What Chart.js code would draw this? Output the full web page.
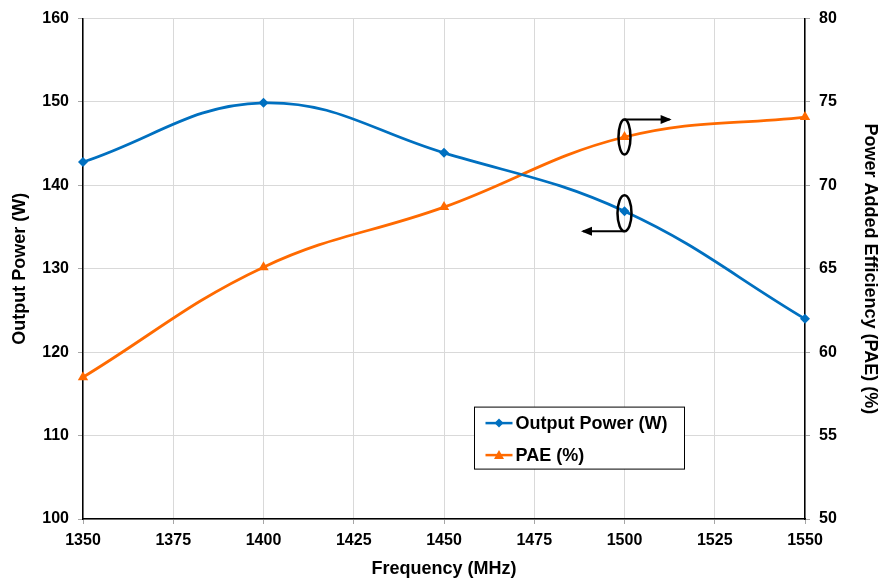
<!DOCTYPE html>
<html>
<head>
<meta charset="utf-8">
<script src="https://cdn.jsdelivr.net/npm/chart.js@4.4.1/dist/chart.umd.min.js"></script>
<style>
html,body{margin:0;padding:0;background:#fff;}
#wrap{width:882px;height:581px;}
</style>
</head>
<body>
<div id="wrap"><canvas id="c" width="882" height="581"></canvas></div>
<script>
const frequencies = [1350, 1400, 1450, 1500, 1550];
const outputPower = [142.8, 149.9, 143.9, 136.9, 124.0];
const paeValues = [58.5, 65.1, 68.7, 72.9, 74.1];
const xTicks = [1350, 1375, 1400, 1425, 1450, 1475, 1500, 1525, 1550];
const leftTicks = [100, 110, 120, 130, 140, 150, 160];
const rightTicks = [50, 55, 60, 65, 70, 75, 80];

const BLUE = '#0070C0';
const ORANGE = '#FF6A00';
const FONT = '"Liberation Sans", Arial, sans-serif';

const annotPlugin = {
  id: 'annot',
  afterDatasetsDraw(chart) {
    const ctx = chart.ctx;
    const x = chart.scales.x, yl = chart.scales.y, yr = chart.scales.y2;
    ctx.save();
    ctx.strokeStyle = '#000';
    ctx.fillStyle = '#000';
    function arrow(x0, y0, x1, y1) {
      ctx.lineWidth = 2;
      ctx.beginPath(); ctx.moveTo(x0, y0); ctx.lineTo(x1, y1); ctx.stroke();
      const dir = Math.sign(x1 - x0);
      ctx.beginPath();
      ctx.moveTo(x1 + dir * 2, y1);
      ctx.lineTo(x1 - dir * 9, y1 - 4.5);
      ctx.lineTo(x1 - dir * 9, y1 + 4.5);
      ctx.closePath(); ctx.fill();
    }
    const px = x.getPixelForValue(frequencies[3]);
    const py = yr.getPixelForValue(paeValues[3]);
    ctx.lineWidth = 2.5;
    ctx.beginPath(); ctx.ellipse(px, py, 6, 17.5, 0, 0, Math.PI * 2); ctx.stroke();
    arrow(px, py - 17.5, x.getPixelForValue(1512.5), py - 17.5);
    const oy = yl.getPixelForValue(outputPower[3]) + 2;
    ctx.lineWidth = 2.5;
    ctx.beginPath(); ctx.ellipse(px, oy, 7, 18, 0, 0, Math.PI * 2); ctx.stroke();
    arrow(px, oy + 18, x.getPixelForValue(1488.5), oy + 18);
    ctx.restore();
  }
};

const legendPlugin = {
  id: 'boxLegend',
  afterDraw(chart) {
    const ctx = chart.ctx;
    const ca = chart.chartArea;
    const bx = ca.left + 391.5, by = ca.top + 388.5, bw = 210, bh = 62;
    ctx.save();
    ctx.fillStyle = '#fff';
    ctx.fillRect(bx, by, bw, bh);
    ctx.strokeStyle = '#000';
    ctx.lineWidth = 1;
    ctx.strokeRect(bx, by, bw, bh);
    ctx.font = 'bold 18px ' + FONT;
    ctx.textBaseline = 'middle';
    chart.data.datasets.forEach((ds, i) => {
      const cy = by + 16 + i * 32;
      const lx0 = bx + 11, lx1 = bx + 38, mx = (lx0 + lx1) / 2;
      ctx.strokeStyle = ds.borderColor;
      ctx.lineWidth = 2.5;
      ctx.beginPath(); ctx.moveTo(lx0, cy); ctx.lineTo(lx1, cy); ctx.stroke();
      ctx.fillStyle = ds.borderColor;
      ctx.beginPath();
      if (ds.pointStyle === 'rectRot') {
        ctx.moveTo(mx, cy - 4.5); ctx.lineTo(mx + 4.5, cy); ctx.lineTo(mx, cy + 4.5); ctx.lineTo(mx - 4.5, cy);
      } else {
        ctx.moveTo(mx, cy - 5); ctx.lineTo(mx + 5, cy + 4); ctx.lineTo(mx - 5, cy + 4);
      }
      ctx.closePath(); ctx.fill();
      ctx.fillStyle = '#000';
      ctx.fillText(ds.label, bx + 41, cy + 1);
    });
    ctx.restore();
  }
};

const tickFont = {family: FONT, size: 16, weight: 'bold'};
const titleFont = {family: FONT, size: 18, weight: 'bold'};
const plain = v => String(v);

new Chart(document.getElementById('c'), {
  type: 'line',
  data: {
    datasets: [
      {
        label: 'Output Power (W)',
        data: frequencies.map((f, i) => ({x: f, y: outputPower[i]})),
        yAxisID: 'y',
        borderColor: BLUE,
        backgroundColor: BLUE,
        borderWidth: 2.75,
        pointStyle: 'rectRot',
        pointRadius: 5,
        pointBorderWidth: 0,
        tension: 0.4,
        clip: false,
        fill: false
      },
      {
        label: 'PAE (%)',
        data: frequencies.map((f, i) => ({x: f, y: paeValues[i]})),
        yAxisID: 'y2',
        borderColor: ORANGE,
        backgroundColor: ORANGE,
        borderWidth: 2.75,
        pointStyle: 'triangle',
        pointRadius: 6,
        pointBorderWidth: 0,
        tension: 0.4,
        clip: false,
        fill: false
      }
    ]
  },
  options: {
    responsive: false,
    animation: false,
    devicePixelRatio: 1,
    layout: {padding: {top: 17, left: 0, right: 0, bottom: 0}},
    plugins: {legend: {display: false}, tooltip: {enabled: false}},
    scales: {
      x: {
        type: 'linear',
        min: xTicks[0], max: xTicks[xTicks.length - 1],
        afterBuildTicks(s) { s.ticks = xTicks.map(v => ({value: v})); },
        afterFit(s) { s.height = 62; },
        grid: {color: '#d9d9d9', tickColor: '#a6a6a6', tickLength: 5, lineWidth: 1},
        border: {color: '#000', width: 1.5},
        ticks: {color: '#000', font: tickFont, padding: 7, maxRotation: 0, callback: plain},
        title: {display: true, text: 'Frequency (MHz)', color: '#000', font: titleFont, padding: {top: 0, bottom: 1}}
      },
      y: {
        type: 'linear', position: 'left',
        min: leftTicks[0], max: leftTicks[leftTicks.length - 1],
        afterBuildTicks(s) { s.ticks = leftTicks.map(v => ({value: v})); },
        afterFit(s) { s.width = 83; },
        grid: {color: '#d9d9d9', tickColor: '#a6a6a6', tickLength: 5, lineWidth: 1},
        border: {color: '#000', width: 1.5},
        ticks: {color: '#000', font: tickFont, padding: 9, callback: plain},
        title: {display: true, text: 'Output Power (W)', color: '#000', font: titleFont, padding: {top: 9, bottom: 0}}
      },
      y2: {
        type: 'linear', position: 'right',
        min: rightTicks[0], max: rightTicks[rightTicks.length - 1],
        afterBuildTicks(s) { s.ticks = rightTicks.map(v => ({value: v})); },
        afterFit(s) { s.width = 77; },
        grid: {drawOnChartArea: false, tickColor: '#a6a6a6', tickLength: 5},
        border: {color: '#000', width: 1.5},
        ticks: {color: '#000', font: tickFont, padding: 9, callback: plain},
        title: {display: true, text: 'Power Added Efficiency (PAE) (%)', color: '#000', font: titleFont, padding: {top: 1, bottom: 0}}
      }
    }
  },
  plugins: [annotPlugin, legendPlugin]
});
</script>
</body>
</html>
